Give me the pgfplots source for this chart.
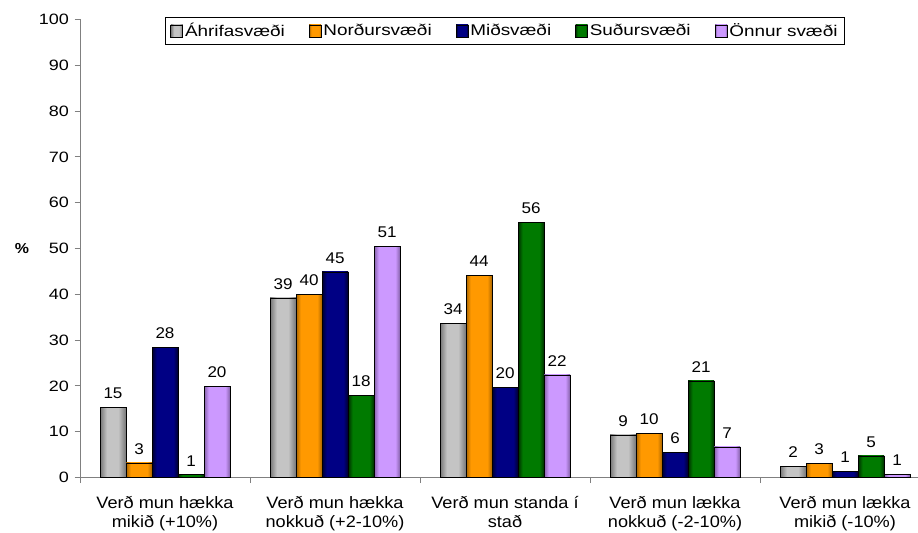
\documentclass[border=0pt]{standalone}
\usepackage{pgfplots}
\pgfplotsset{compat=1.18}
\usepackage{fontspec}
\setmainfont{Liberation Sans}[FakeStretch=1.1]
\newfontfamily\tickfont{Liberation Sans}[FakeStretch=1.2]
\newfontfamily\legfont{Liberation Sans}[FakeStretch=1.22]
\definecolor{greyD}{HTML}{767676}
\definecolor{greyL}{HTML}{C4C4C4}
\definecolor{oraD}{HTML}{A86400}
\definecolor{oraL}{HTML}{FF9900}
\definecolor{navD}{HTML}{00002E}
\definecolor{navL}{HTML}{000084}
\definecolor{grnD}{HTML}{002E00}
\definecolor{grnL}{HTML}{007A00}
\definecolor{purD}{HTML}{8461A8}
\definecolor{purL}{HTML}{CC99FF}
\definecolor{axgrey}{HTML}{808080}
\pgfdeclarehorizontalshading{shgrey}{100bp}{color(0bp)=(greyD); color(25bp)=(greyD); color(38bp)=(greyL); color(60bp)=(greyL); color(75bp)=(greyD); color(100bp)=(greyD)}
\pgfdeclarehorizontalshading{shora}{100bp}{color(0bp)=(oraD); color(25bp)=(oraD); color(34bp)=(oraL); color(66bp)=(oraL); color(75bp)=(oraD); color(100bp)=(oraD)}
\pgfdeclarehorizontalshading{shnav}{100bp}{color(0bp)=(navD); color(25bp)=(navD); color(34bp)=(navL); color(66bp)=(navL); color(75bp)=(navD); color(100bp)=(navD)}
\pgfdeclarehorizontalshading{shgrn}{100bp}{color(0bp)=(grnD); color(25bp)=(grnD); color(34bp)=(grnL); color(66bp)=(grnL); color(75bp)=(grnD); color(100bp)=(grnD)}
\pgfdeclarehorizontalshading{shpur}{100bp}{color(0bp)=(purD); color(25bp)=(purD); color(34bp)=(purL); color(66bp)=(purL); color(75bp)=(purD); color(100bp)=(purD)}
\pgfplotsset{
  legsq/.style={legend image code/.code={\draw[##1,draw=black,line width=0.6bp] (0bp,-6bp) rectangle (12bp,6bp);}},
  bb/.style={draw=black, line width=0.6bp, legsq},
  s1/.style={bb, shade, shading=shgrey, bar shift=-52bp},
  s2/.style={bb, shade, shading=shora, bar shift=-26bp},
  s3/.style={bb, shade, shading=shnav, bar shift=0bp},
  s4/.style={bb, shade, shading=shgrn, bar shift=26bp},
  s5/.style={bb, shade, shading=shpur, bar shift=52bp},
}
\begin{document}
\begin{tikzpicture}
\useasboundingbox (0,0) rectangle (918bp,533bp);
\begin{axis}[
  at={(80bp,55.5bp)}, anchor=south west,
  scale only axis, width=850bp, height=458bp,
  xmin=-0.5, xmax=4.5, ymin=0, ymax=100,
  enlargelimits=false,
  axis lines*=left,
  axis line style={draw=axgrey, line width=0.9bp},
  ybar=0pt, bar width=26bp,
  ytick={0,10,...,100},
  xtick={-0.5,0.5,1.5,2.5,3.5,4.5},
  x tick label as interval,
  xticklabels={{Verð mun hækka\\mikið (+10\%)},{Verð mun hækka\\nokkuð (+2-10\%)},{Verð mun standa í\\stað},{Verð mun lækka\\nokkuð (-2-10\%)},{Verð mun lækka\\mikið (-10\%)}},
  tick align=outside,
  major tick length=5.5bp,
  tick style={draw=axgrey, line width=0.9bp},
  /pgf/number format/assume math mode=true,
  yticklabel style={font=\tickfont\fontsize{15bp}{17bp}\selectfont, xshift=-2bp},
  xticklabel style={font=\fontsize{16.5bp}{19bp}\selectfont, align=center, yshift=-10bp},
  ylabel={\textbf{\%}},
  ylabel style={at={(rel axis cs:0,0.5)}, rotate=-90, anchor=center, xshift=-58bp, font=\fontsize{14.5bp}{16bp}\selectfont},
  point meta=explicit symbolic,
  nodes near coords,
  every node near coord/.append style={font=\fontsize{15.5bp}{17bp}\selectfont, yshift=5bp, black},
  legend columns=5,
  legend cell align=left,
  legend style={at={(0.5,1)}, anchor=north, yshift=2.5bp, draw=black, line width=0.8bp,
    font=\legfont\fontsize{15.5bp}{18bp}\selectfont, inner xsep=5bp, inner ysep=4bp,
    /tikz/every even column/.append style={column sep=22bp}},
]
% Áhrifasvæði
\addplot[s1] coordinates {(0,15.3)[15]};
\addlegendentry{Áhrifasvæði}
\addplot[s1, forget plot] coordinates {(1,39.2)[39]};
\addplot[s1, forget plot] coordinates {(2,33.7)[34]};
\addplot[s1, forget plot] coordinates {(3,9.3)[9]};
\addplot[s1, forget plot] coordinates {(4,2.5)[2]};
% Norðursvæði
\addplot[s2] coordinates {(0,3.2)[3]};
\addlegendentry{Norðursvæði}
\addplot[s2, forget plot] coordinates {(1,39.9)[40]};
\addplot[s2, forget plot] coordinates {(2,44.2)[44]};
\addplot[s2, forget plot] coordinates {(3,9.7)[10]};
\addplot[s2, forget plot] coordinates {(4,3.0)[3]};
% Miðsvæði
\addplot[s3] coordinates {(0,28.4)[28]};
\addlegendentry{Miðsvæði}
\addplot[s3, forget plot] coordinates {(1,44.9)[45]};
\addplot[s3, forget plot] coordinates {(2,19.6)[20]};
\addplot[s3, forget plot] coordinates {(3,5.4)[6]};
\addplot[s3, forget plot] coordinates {(4,1.4)[1]};
% Suðursvæði
\addplot[s4] coordinates {(0,0.6)[1]};
\addlegendentry{Suðursvæði}
\addplot[s4, forget plot] coordinates {(1,18.0)[18]};
\addplot[s4, forget plot] coordinates {(2,55.7)[56]};
\addplot[s4, forget plot] coordinates {(3,21.1)[21]};
\addplot[s4, forget plot] coordinates {(4,4.7)[5]};
% Önnur svæði
\addplot[s5] coordinates {(0,19.9)[20]};
\addlegendentry{Önnur svæði}
\addplot[s5, forget plot] coordinates {(1,50.4)[51]};
\addplot[s5, forget plot] coordinates {(2,22.4)[22]};
\addplot[s5, forget plot] coordinates {(3,6.7)[7]};
\addplot[s5, forget plot] coordinates {(4,0.65)[1]};
\end{axis}
\end{tikzpicture}
\end{document}
